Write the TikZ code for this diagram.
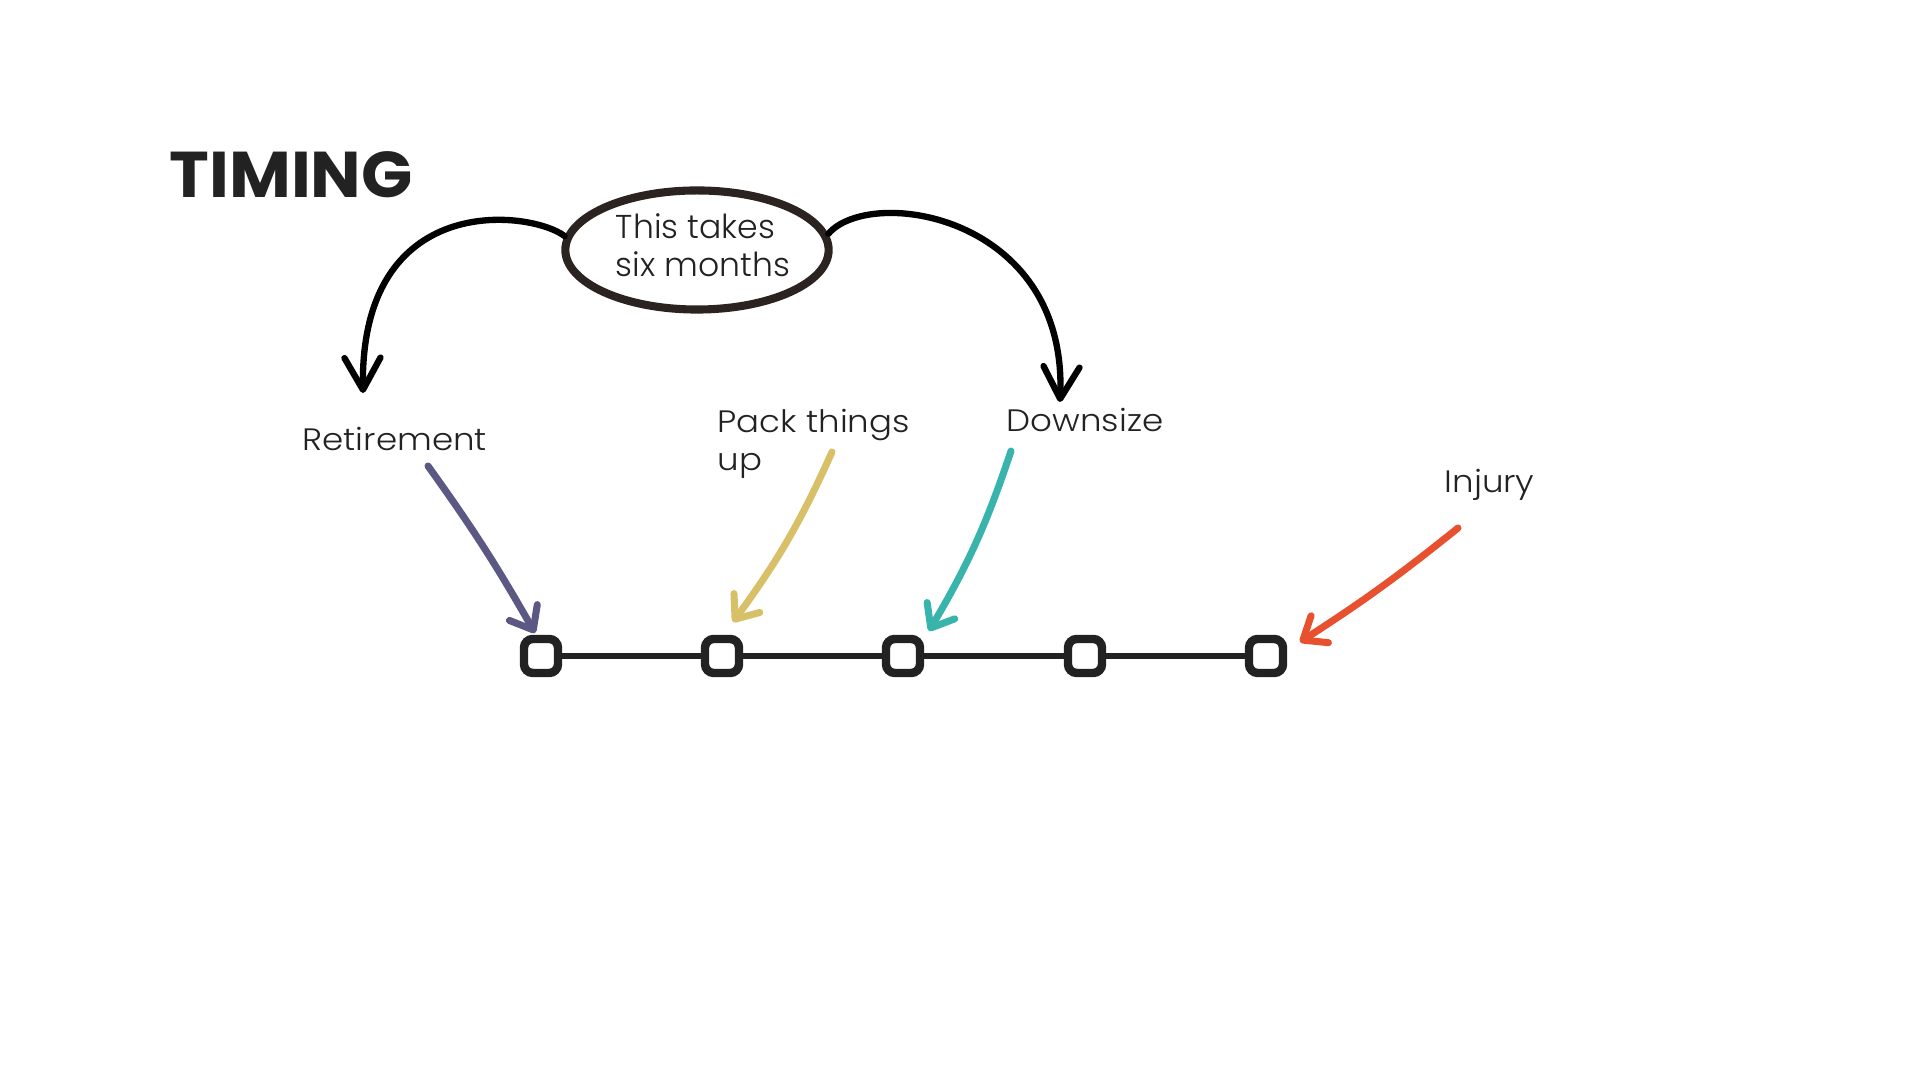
\documentclass[tikz,border=0pt]{standalone}
\usepackage{fontspec}
\setmainfont{Poppins}
\newfontfamily\titlefont{Poppins}[FakeStretch=1.04]
\IfFontExistsTF{Poppins Light}
  {\newfontfamily\labelfont{Poppins Light}[FakeStretch=1.1]
   \newfontfamily\bubblefont{Poppins Light}}
  {\newfontfamily\labelfont{Poppins}[FakeStretch=1.1]
   \newfontfamily\bubblefont{Poppins}}
\usetikzlibrary{arrows.meta,shapes.geometric}
\definecolor{inkgray}{HTML}{222222}
\definecolor{ringbrown}{HTML}{2A2320}
\definecolor{retpurple}{HTML}{5C5884}
\definecolor{packgold}{HTML}{D8C068}
\definecolor{downteal}{HTML}{38B4AD}
\definecolor{injred}{HTML}{E8512F}
\tikzstyle{box}=[rectangle,draw=inkgray,line width=2.4pt,rounded corners=2.5pt,minimum size=0.34cm,inner sep=0pt,fill=white]
\tikzstyle{link}=[draw=inkgray,line width=1.8pt]
\tikzstyle{bigarrow}=[draw=black,line width=1.8pt,line cap=round,-{Straight Barb[length=0.32cm,width=0.36cm,round]}]
\tikzstyle{pointer}=[line width=2pt,line cap=round,-{Straight Barb[length=0.2cm,width=0.32cm,round]}]
\tikzstyle{label}=[text=inkgray,font=\labelfont\fontsize{8.8}{11}\selectfont,inner sep=0pt,align=left]

\begin{document}
\begin{tikzpicture}[x=0.01cm,y=-0.01cm]
\useasboundingbox (0,0) rectangle (1920,1080);

% Title
\node[anchor=base west,inner sep=0pt,text=inkgray,font=\titlefont\fontsize{18.4}{20}\selectfont\bfseries] (title) at (169,198) {TIMING};

% Bubble
\node[ellipse,draw=ringbrown,line width=2.3pt,minimum width=2.55cm,minimum height=1.19cm,inner sep=0pt,
      text=inkgray,font=\bubblefont\fontsize{9.4}{10.8}\selectfont] (six) at (697,250)
      {\raisebox{0.05cm}{\hspace*{0.12cm}\begin{tabular}{@{}l@{}}This takes\\six months\end{tabular}}};

\coordinate (retTop) at (363,393);
\coordinate (downTop) at (1060,402);
\draw[bigarrow] (six.174) .. controls (530,210) and (360,190) .. (retTop);
\draw[bigarrow] (six.7) .. controls (870,185) and (1068,215) .. (downTop);

% Labels
\node[label,anchor=base west] (ret) at (302,451) {Retirement};
\node[label,anchor=base west] (pack) at (717,471) {Pack things\\up};
\node[label,anchor=base west] (down) at (1006,432) {Downsize};
\node[label,anchor=base west] (inj) at (1444,493) {Injury};

% Timeline
\foreach \x/\name in {541/s1, 722/s2, 903/s3, 1085/s4, 1266/s5}
    \node[box] (\name) at (\x,656) {};
\foreach \source/\dest in {s1/s2, s2/s3, s3/s4, s4/s5}
    \path[link] (\source) -- (\dest);

% Pointers
\coordinate (retA) at (428,466);   \coordinate (retB) at (535,633);
\coordinate (packA) at (832,452);  \coordinate (packB) at (733,622);
\coordinate (downA) at (1011,451); \coordinate (downB) at (929,631);
\coordinate (injA) at (1458,528);  \coordinate (injB) at (1300,642);

\draw[pointer,retpurple] (retA) to[bend left=3] (retB);
\draw[pointer,packgold] (packA) to[bend left=6] (packB);
\draw[pointer,downteal] (downA) to[bend left=6] (downB);
\draw[pointer,injred] (injA) to[bend left=3] (injB);

\end{tikzpicture}
\end{document}
